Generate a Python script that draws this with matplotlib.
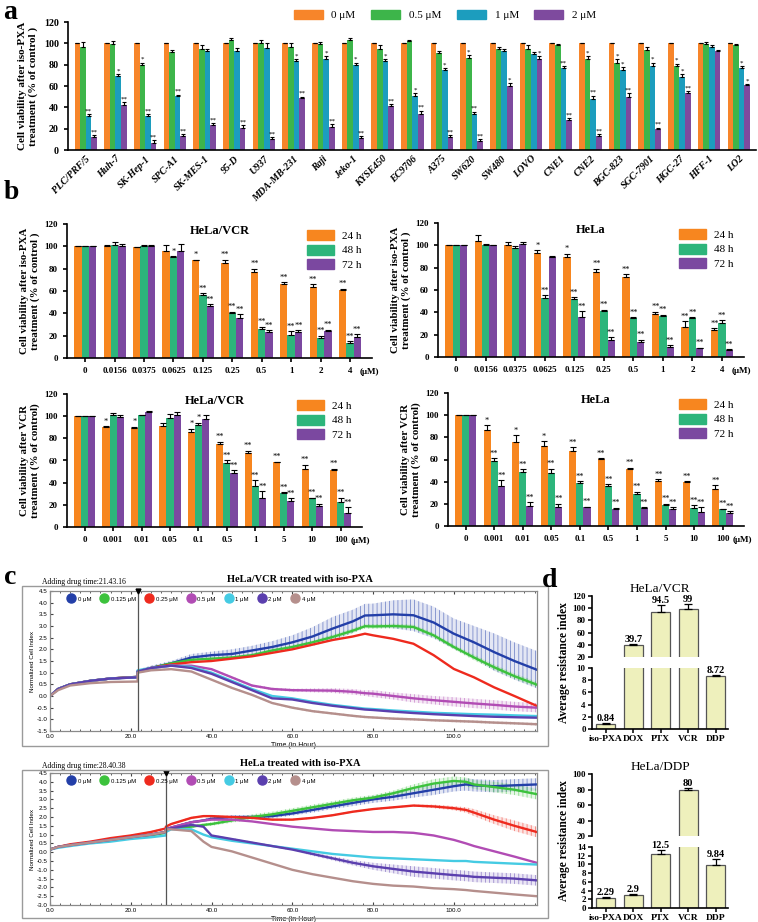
import numpy as np
import matplotlib
matplotlib.use('Agg')
import matplotlib.pyplot as plt
from matplotlib.patches import Rectangle, Patch
from matplotlib.lines import Line2D
import matplotlib.transforms as mtransforms

plt.rcParams['font.family'] = 'Liberation Serif'
plt.rcParams['font.weight'] = 'bold'
plt.rcParams['axes.labelweight'] = 'bold'
plt.rcParams['hatch.linewidth'] = 0.6

W, H = 758, 922
fig = plt.figure(figsize=(W / 100, H / 100), dpi=100)


def add_ax(x0, y0, x1, y1):
    return fig.add_axes([x0 / W, 1 - y1 / H, (x1 - x0) / W, (y1 - y0) / H])


# ---------------- panel a data ----------------
cell_lines = ['PLC/PRF/5', 'Huh-7', 'SK-Hep-1', 'SPC-A1', 'SK-MES-1', '95-D', 'U937',
              'MDA-MB-231', 'Raji', 'Jeko-1', 'KYSE450', 'EC9706', 'A375', 'SW620',
              'SW480', 'LOVO', 'CNE1', 'CNE2', 'BGC-823', 'SGC-7901', 'HGC-27', 'HFF-1', 'LO2']
a_labels = ['0 μM', '0.5 μM', '1 μM', '2 μM']
a_0 = [100, 100, 100, 100, 100, 100, 100, 100, 100, 100, 100, 100, 100, 100, 100, 100, 100, 100, 100, 100, 100, 100, 100]
a_05 = [97, 99, 80, 92, 95, 103, 100, 97, 99, 103, 95, 102, 91, 86, 95, 95, 98, 85, 82, 94, 79, 99, 98]
a_1 = [32, 69, 32, 51, 93, 93, 96, 83, 85, 80, 83, 51, 75, 34, 93, 90, 77, 48, 75, 79, 68, 97, 77]
a_2 = [12, 42, 7, 13, 23, 21, 10, 49, 22, 11, 41, 34, 12, 8, 60, 85, 28, 13, 50, 20, 53, 93, 61]
a_err0 = [0, 0, 0, 0, 0, 0, 0, 0, 0, 0, 0, 0, 0, 0, 0, 0, 0, 0, 0, 0, 0, 0, 0]
a_err05 = [4, 3, 2, 2, 3, 2, 3, 3, 2, 2, 3, 1, 2, 3, 2, 3, 1, 3, 3, 3, 2, 2, 1]
a_err1 = [2, 2, 2, 1, 2, 3, 4, 2, 3, 2, 2, 2, 2, 2, 2, 2, 2, 3, 3, 3, 3, 1, 2]
a_err2 = [2, 3, 2, 2, 2, 2, 2, 1, 2, 2, 2, 3, 2, 2, 3, 3, 2, 2, 3, 1, 2, 1, 1]
a_sig05 = ['', '', '*', '', '', '', '', '', '', '', '', '', '', '*', '', '', '', '*', '*', '', '*', '', '']
a_sig1 = ['**', '*', '**', '**', '', '', '', '*', '*', '*', '*', '*', '*', '**', '', '', '**', '**', '*', '*', '*', '', '*']
a_sig2 = ['**', '**', '**', '**', '**', '**', '**', '**', '**', '**', '**', '**', '**', '**', '*', '*', '**', '**', '**', '**', '**', '', '*']
a_colors = ['#F7852A', '#3DB54A', '#1C9DBE', '#7E4A9E']

# ---------------- panel b data ----------------
pxa_conc = ['0', '0.0156', '0.0375', '0.0625', '0.125', '0.25', '0.5', '1', '2', '4']
vcr_conc = ['0', '0.001', '0.01', '0.05', '0.1', '0.5', '1', '5', '10', '100']
b_labels = ['24 h', '48 h', '72 h']
b_colors = ['#F7861F', '#2DB57B', '#7B48A0']

# HeLa/VCR + iso-PXA
b1_24 = [100, 100, 99, 96, 88, 85, 77, 66, 64, 61]
b1_48 = [100, 101.5, 100.5, 90, 56, 40.5, 26, 21, 18, 13]
b1_72 = [100, 100, 100.5, 96, 47, 36, 23, 23.5, 24, 19]
b1_e24 = [0, 1, 0.5, 5, 0, 3, 3, 2, 2, 1]
b1_e48 = [0, 2.5, 1, 1, 2, 1, 2, 3, 2, 2]
b1_e72 = [0, 2, 1, 6, 1, 3, 2, 1.5, 1.5, 2.5]
b1_s24 = ['', '', '', '', '*', '**', '**', '**', '**', '**']
b1_s48 = ['', '', '', '*', '**', '**', '**', '**', '**', '**']
b1_s72 = ['', '', '', '', '**', '**', '**', '**', '**', '**']

# HeLa + iso-PXA
b2_24 = [100, 103.5, 100.5, 93.5, 89.5, 76, 71.5, 38.5, 27, 24]
b2_48 = [100, 100.5, 98, 53, 51.5, 41.5, 35, 37, 35, 30]
b2_72 = [100, 100, 101, 89.5, 36, 15.5, 13.5, 9, 8, 6.5]
b2_e24 = [0, 6, 2.5, 2, 3, 3, 2.5, 2, 5, 2]
b2_e48 = [0, 1, 1, 2.5, 2, 1, 0.5, 1, 0.5, 3]
b2_e72 = [0, 0.5, 2, 0.5, 5, 2, 2, 1.5, 0.5, 0.5]
b2_s24 = ['', '', '', '*', '*', '**', '**', '**', '**', '**']
b2_s48 = ['', '', '', '**', '**', '**', '**', '**', '**', '**']
b2_s72 = ['', '', '', '', '**', '**', '**', '**', '**', '**']

# HeLa/VCR + VCR
b3_24 = [100, 90, 89, 91.5, 86, 75, 66.5, 58.5, 52.5, 51]
b3_48 = [100, 101, 101, 98, 92, 58, 37, 31, 26, 22.5]
b3_72 = [100, 99.5, 104, 101, 97.5, 48.5, 26.5, 23.5, 18.5, 13]
b3_e24 = [0, 1, 1.5, 2.5, 2.5, 2, 2.5, 0.5, 3.5, 1.5]
b3_e48 = [0, 2, 0.5, 4, 2, 2.5, 5, 0.5, 0.5, 4]
b3_e72 = [0, 1.5, 1, 2.5, 3.5, 2.5, 6, 2.5, 2.5, 5]
b3_s24 = ['', '*', '*', '', '*', '**', '**', '**', '**', '**']
b3_s48 = ['', '', '', '', '*', '**', '**', '**', '**', '**']
b3_s72 = ['', '', '', '', '', '**', '**', '**', '**', '**']

# HeLa + VCR
b4_24 = [100, 87, 75.5, 72.5, 67.5, 60.5, 51.5, 41, 40, 33]
b4_48 = [100, 58.5, 49, 48, 39, 36, 29, 19, 16.5, 15]
b4_72 = [100, 36, 18, 17.5, 17, 15.5, 16, 15.5, 13, 11.5]
b4_e24 = [0, 4, 6.5, 4, 3.5, 0.5, 1, 1, 0.5, 4]
b4_e48 = [0, 2.5, 2, 3.5, 1.5, 1.5, 2, 1, 2, 0.5]
b4_e72 = [0, 5.5, 3.5, 2.5, 0.5, 1, 1, 1.5, 4, 2]
b4_s24 = ['', '*', '*', '*', '**', '**', '**', '**', '**', '**']
b4_s48 = ['', '**', '**', '**', '**', '**', '**', '**', '**', '**']
b4_s72 = ['', '**', '**', '**', '**', '**', '**', '**', '**', '**']

# ---------------- panel c data (xCELLigence curves) ----------------
c_labels = ['0 μM', '0.125 μM', '0.25 μM', '0.5 μM', '1 μM', '2 μM', '4 μM']
c_colors = ['#233FA8', '#3CC23C', '#EE2A1E', '#B14CB4', '#45CBE3', '#5B3FAE', '#B58F8C']

c1_drug = 21.7
c1_t = [0, 2, 5, 10, 15, 21.7, 21.7, 25, 30, 35, 40, 45, 50, 55, 60, 65, 70, 75, 78, 80, 85, 90, 95, 100, 105, 110, 115, 120.5]
c1_0 = [0, 0.3, 0.5, 0.65, 0.75, 0.82, 1.05, 1.2, 1.4, 1.65, 1.75, 1.8, 1.95, 2.1, 2.3, 2.55, 2.89, 3.2, 3.45, 3.46, 3.5, 3.46, 3.15, 2.67, 2.3, 1.88, 1.5, 1.13]
c1_0125 = [0, 0.3, 0.5, 0.65, 0.75, 0.82, 1.05, 1.2, 1.4, 1.55, 1.6, 1.65, 1.75, 1.95, 2.1, 2.3, 2.53, 2.8, 2.99, 2.98, 3.0, 2.96, 2.6, 2.1, 1.65, 1.23, 0.85, 0.49]
c1_025 = [0, 0.3, 0.5, 0.65, 0.75, 0.82, 1.05, 1.2, 1.35, 1.45, 1.5, 1.6, 1.7, 1.85, 2.0, 2.2, 2.4, 2.55, 2.67, 2.6, 2.45, 2.24, 1.75, 1.16, 0.8, 0.37, 0.0, -0.42]
c1_05 = [0, 0.3, 0.5, 0.65, 0.75, 0.8, 1.05, 1.2, 1.3, 1.3, 1.15, 0.8, 0.45, 0.3, 0.25, 0.24, 0.23, 0.18, 0.12, 0.1, 0.0, -0.1, -0.18, -0.25, -0.32, -0.38, -0.45, -0.5]
c1_1 = [0, 0.3, 0.5, 0.65, 0.75, 0.8, 1.1, 1.2, 1.3, 1.25, 1.0, 0.65, 0.3, 0.0, -0.1, -0.25, -0.38, -0.48, -0.54, -0.56, -0.62, -0.67, -0.72, -0.75, -0.78, -0.8, -0.83, -0.86]
c1_2 = [0, 0.3, 0.5, 0.65, 0.75, 0.8, 1.05, 1.2, 1.3, 1.2, 0.95, 0.6, 0.25, -0.1, -0.15, -0.3, -0.42, -0.52, -0.58, -0.6, -0.67, -0.73, -0.78, -0.82, -0.86, -0.89, -0.91, -0.93]
c1_4 = [0, 0.25, 0.45, 0.55, 0.6, 0.62, 1.0, 1.1, 1.15, 1.05, 0.7, 0.35, 0.05, -0.3, -0.5, -0.65, -0.75, -0.85, -0.9, -0.92, -0.97, -1.0, -1.04, -1.07, -1.1, -1.14, -1.17, -1.21]
c1_err0 = [0, 0.02, 0.03, 0.04, 0.05, 0.05, 0.08, 0.1, 0.1, 0.15, 0.15, 0.2, 0.2, 0.25, 0.3, 0.4, 0.5, 0.5, 0.5, 0.5, 0.6, 0.68, 0.68, 0.65, 0.7, 0.8, 0.8, 0.8]
c1_err0125 = [0, 0.02, 0.02, 0.02, 0.02, 0.02, 0.03, 0.03, 0.04, 0.05, 0.05, 0.06, 0.06, 0.08, 0.08, 0.08, 0.1, 0.1, 0.1, 0.1, 0.1, 0.1, 0.1, 0.1, 0.12, 0.12, 0.12, 0.12]
c1_err05 = [0, 0.02, 0.02, 0.02, 0.02, 0.02, 0.03, 0.03, 0.03, 0.03, 0.04, 0.05, 0.05, 0.06, 0.06, 0.08, 0.1, 0.12, 0.12, 0.15, 0.15, 0.18, 0.18, 0.2, 0.2, 0.2, 0.2, 0.2]
c1_err4 = [0, 0.02, 0.02, 0.02, 0.02, 0.02, 0.03, 0.03, 0.03, 0.03, 0.03, 0.04, 0.04, 0.04, 0.05, 0.05, 0.05, 0.05, 0.05, 0.05, 0.05, 0.05, 0.05, 0.06, 0.06, 0.06, 0.06, 0.06]

c2_drug = 28.7
c2_t = [0, 2, 5, 10, 15, 20, 25, 28.7, 28.7, 30, 35, 38, 40, 45, 50, 55, 60, 65, 70, 75, 80, 85, 90, 95, 100, 103, 105, 110, 115, 120.5]
c2_0 = [0.15, 0.3, 0.4, 0.55, 0.7, 0.85, 1.0, 1.15, 1.3, 1.4, 1.7, 1.8, 1.9, 2.0, 2.0, 2.05, 2.2, 2.4, 2.6, 2.8, 3.0, 3.15, 3.35, 3.55, 3.75, 3.85, 3.8, 3.75, 3.8, 3.85]
c2_0125 = [0.15, 0.3, 0.4, 0.55, 0.7, 0.82, 0.95, 1.1, 1.3, 1.35, 1.45, 1.55, 1.6, 1.8, 2.0, 2.15, 2.35, 2.55, 2.75, 2.95, 3.1, 3.35, 3.65, 3.9, 4.05, 4.0, 3.85, 3.7, 3.55, 3.3]
c2_025 = [0.15, 0.3, 0.45, 0.6, 0.8, 0.95, 1.15, 1.35, 1.45, 1.6, 1.95, 2.05, 2.05, 2.0, 1.95, 1.85, 1.85, 1.95, 2.1, 2.3, 2.45, 2.55, 2.65, 2.6, 2.5, 2.4, 2.25, 1.85, 1.5, 1.15]
c2_05 = [0.15, 0.3, 0.4, 0.55, 0.7, 0.85, 1.0, 1.15, 1.3, 1.4, 1.7, 1.8, 1.85, 1.85, 1.75, 1.6, 1.45, 1.35, 1.25, 1.2, 1.15, 1.15, 1.1, 0.95, 0.7, 0.5, 0.35, 0.05, -0.25, -0.6]
c2_1 = [0.15, 0.25, 0.35, 0.5, 0.6, 0.75, 0.85, 0.95, 1.15, 1.3, 1.3, 1.0, 0.85, 0.65, 0.5, 0.35, 0.2, 0.05, -0.1, -0.2, -0.3, -0.35, -0.4, -0.45, -0.5, -0.5, -0.55, -0.6, -0.65, -0.7]
c2_2 = [0.15, 0.3, 0.4, 0.55, 0.7, 0.85, 1.0, 1.15, 1.3, 1.35, 1.55, 1.45, 0.95, 0.75, 0.55, 0.35, 0.15, -0.1, -0.35, -0.6, -0.8, -0.95, -1.1, -1.2, -1.3, -1.35, -1.4, -1.45, -1.5, -1.6]
c2_4 = [0.15, 0.3, 0.4, 0.55, 0.7, 0.85, 1.0, 1.15, 1.3, 1.3, 1.2, 0.6, 0.3, 0.05, -0.3, -0.65, -1.0, -1.25, -1.45, -1.65, -1.8, -1.9, -1.95, -2.05, -2.1, -2.15, -2.2, -2.3, -2.4, -2.5]
c2_err0 = [0, 0.02, 0.02, 0.03, 0.03, 0.04, 0.05, 0.05, 0.05, 0.06, 0.08, 0.08, 0.1, 0.1, 0.1, 0.12, 0.12, 0.15, 0.15, 0.18, 0.2, 0.22, 0.25, 0.3, 0.3, 0.35, 0.35, 0.35, 0.35, 0.35]
c2_err0125 = [0, 0.02, 0.02, 0.03, 0.03, 0.04, 0.05, 0.05, 0.05, 0.06, 0.08, 0.08, 0.1, 0.12, 0.15, 0.15, 0.15, 0.15, 0.15, 0.15, 0.15, 0.15, 0.2, 0.25, 0.25, 0.25, 0.25, 0.3, 0.3, 0.3]
c2_err025 = [0, 0.02, 0.02, 0.03, 0.03, 0.04, 0.05, 0.05, 0.05, 0.05, 0.05, 0.05, 0.05, 0.05, 0.05, 0.05, 0.05, 0.05, 0.05, 0.05, 0.05, 0.05, 0.05, 0.1, 0.12, 0.15, 0.2, 0.25, 0.3, 0.3]
c2_err2 = [0, 0.02, 0.02, 0.03, 0.03, 0.04, 0.05, 0.05, 0.05, 0.05, 0.05, 0.05, 0.05, 0.05, 0.05, 0.05, 0.05, 0.1, 0.12, 0.15, 0.2, 0.25, 0.3, 0.3, 0.3, 0.3, 0.3, 0.3, 0.3, 0.3]

# ---------------- panel d data ----------------
drugs = ['iso-PXA', 'DOX', 'PTX', 'VCR', 'DDP']
d1_vals = [0.84, 39.7, 94.5, 99, 8.72]
d1_err = [0.2, 0.8, 10, 8, 0.15]
d1_text = ['0.84', '39.7', '94.5', '99', '8.72']
d2_vals = [2.29, 2.9, 12.5, 80, 9.84]
d2_err = [0.3, 0.2, 0.7, 1.5, 1.3]
d2_text = ['2.29', '2.9', '12.5', '80', '9.84']


def style_ax(ax, lw=1.3):
    for s in ['top', 'right']:
        ax.spines[s].set_visible(False)
    for s in ['left', 'bottom']:
        ax.spines[s].set_linewidth(lw)
    ax.tick_params(width=lw, length=3, direction='out')


def grouped_bars(ax, groups, errs, sigs, colors, width, star_fs):
    n = len(groups)
    x = np.arange(len(groups[0]))
    for i, (vals, err, sig, col) in enumerate(zip(groups, errs, sigs, colors)):
        pos = x + (i - (n - 1) / 2) * width
        ax.bar(pos, vals, width, color=col, edgecolor='none', zorder=2)
        ax.errorbar(pos, vals, yerr=[np.zeros(len(err)), err], fmt='none', ecolor='black',
                    elinewidth=0.8, capsize=width * 8, capthick=0.8, zorder=3)
        if sig is not None:
            for p, v, e, s in zip(pos, vals, err, sig):
                if s:
                    ax.text(p, v + e + 0.5, s, ha='center', va='bottom', fontsize=star_fs,
                            fontweight='normal', zorder=4)
    return x


# ================= panel a =================
ax = add_ax(68, 22, 756, 150)
style_ax(ax, 1.2)
x = grouped_bars(ax, [a_0, a_05, a_1, a_2], [a_err0, a_err05, a_err1, a_err2],
                 [None, a_sig05, a_sig1, a_sig2], a_colors, 0.19, 5)
ax.set_xlim(-0.6, 22.58)
ax.set_ylim(0, 120)
ax.set_yticks(range(0, 121, 20))
ax.set_xticks(x)
ax.set_xticklabels(cell_lines, rotation=45, ha='right', rotation_mode='anchor',
                   fontsize=7.2, fontstyle='italic')
ax.tick_params(axis='y', labelsize=7.2)
ax.tick_params(axis='x', length=0, pad=3)
ax.set_ylabel('Cell viability after iso-PXA\ntreatment (% of control )', fontsize=8, labelpad=4)
handles = [Patch(color=c) for c in a_colors]
fig.legend(handles, a_labels, loc='center', bbox_to_anchor=(445 / W, 1 - 15 / H), ncol=4,
           frameon=False, handlelength=2.6, handleheight=0.9, columnspacing=1.4,
           prop={'weight': 'normal', 'size': 8})


# ================= panel b =================
def panel_b(rect, title, conc, vals, errs, sigs, ylabel):
    ax = add_ax(*rect)
    style_ax(ax, 1.2)
    x = grouped_bars(ax, vals, errs, sigs, b_colors, 0.25, 6)
    ax.set_xlim(-0.62, 9.75)
    ax.set_ylim(0, 120)
    ax.set_yticks(range(0, 121, 20))
    ax.set_xticks(x)
    ax.set_xticklabels(conc, fontsize=6.5)
    ax.tick_params(axis='y', labelsize=6.5)
    ax.text(0.5, 0.99, title, transform=ax.transAxes, ha='center', va='top', fontsize=9)
    trans = mtransforms.blended_transform_factory(ax.transData, ax.transAxes)
    ax.text(9.34, -0.075, '(μM)', transform=trans, ha='left', va='top', fontsize=6.5)
    ax.set_ylabel(ylabel, fontsize=7.8, labelpad=3)
    hs = [Patch(color=c) for c in b_colors]
    ax.legend(hs, b_labels, loc='upper right', bbox_to_anchor=(1.0, 1.03), frameon=False,
              handlelength=2.4, handleheight=1.0, labelspacing=0.35,
              prop={'weight': 'normal', 'size': 8})
    return ax


lab_pxa = 'Cell viability after iso-PXA\ntreatment (% of control )'
lab_vcr = 'Cell viability after VCR\ntreatment (% of control)'
panel_b((67, 224, 372, 358), 'HeLa/VCR', pxa_conc, [b1_24, b1_48, b1_72],
        [b1_e24, b1_e48, b1_e72], [b1_s24, b1_s48, b1_s72], lab_pxa)
panel_b((438, 223, 744, 357), 'HeLa', pxa_conc, [b2_24, b2_48, b2_72],
        [b2_e24, b2_e48, b2_e72], [b2_s24, b2_s48, b2_s72], lab_pxa)
panel_b((67, 394, 362, 527), 'HeLa/VCR', vcr_conc, [b3_24, b3_48, b3_72],
        [b3_e24, b3_e48, b3_e72], [b3_s24, b3_s48, b3_s72], lab_vcr)
panel_b((448, 393, 744, 526), 'HeLa', vcr_conc, [b4_24, b4_48, b4_72],
        [b4_e24, b4_e48, b4_e72], [b4_s24, b4_s48, b4_s72], lab_vcr)


# ================= panel c =================
def panel_c(frame, rect, title, drug_label, t, series, errs, drug_t, ylim, yticks):
    fx0, fy0, fx1, fy1 = frame
    fig.patches.append(Rectangle((fx0 / W, 1 - fy1 / H), (fx1 - fx0) / W, (fy1 - fy0) / H,
                                 transform=fig.transFigure, fill=False, edgecolor='#9a9a9a',
                                 linewidth=1.0))
    fig.text((fx0 + fx1) / 2 / W + 0.02, 1 - (fy0 - 7) / H, title, ha='center', va='center',
             fontsize=7.5, fontweight='bold')
    fig.text((fx0 + 20) / W, 1 - (fy0 - 4) / H, drug_label, ha='left', va='center',
             fontsize=5.5, fontweight='normal')
    ax = add_ax(*rect)
    for s in ax.spines.values():
        s.set_color('#8a8a8a')
        s.set_linewidth(0.9)
    for vals, col, err in zip(series, c_colors, errs):
        v = np.array(vals)
        if err is not None:
            e = np.array(err)
            ax.fill_between(t, v - e, v + e, facecolor=col, alpha=0.12, linewidth=0, zorder=1)
            ax.fill_between(t, v - e, v + e, facecolor='none', edgecolor=col, hatch='||||',
                            alpha=0.55, linewidth=0, zorder=1)
    for vals, col in zip(series, c_colors):
        ax.plot(t, vals, color=col, lw=1.7, zorder=2)
    ax.axvline(drug_t, color='#555555', lw=0.9, zorder=3)
    ax.plot([drug_t], [ylim[1]], marker='v', color='black', markersize=3.5, clip_on=False, zorder=4)
    ax.set_xlim(0, 120.6)
    ax.set_ylim(*ylim)
    ax.set_yticks(yticks)
    ax.set_yticklabels([f'{v:.1f}' for v in yticks], fontfamily='Liberation Sans', fontweight='normal')
    ax.set_xticks([0, 20, 40, 60, 80, 100])
    ax.set_xticklabels(['0.0', '20.0', '40.0', '60.0', '80.0', '100.0'],
                       fontfamily='Liberation Sans', fontweight='normal')
    ax.set_xticks(np.arange(0, 121, 2.5), minor=True)
    ax.tick_params(axis='both', which='major', labelsize=4.5, length=2.5, direction='in',
                   top=True, color='#444444', pad=2)
    ax.tick_params(axis='x', which='minor', length=1.5, direction='in', top=True, color='#444444')
    ax.set_xlabel('Time (in Hour)', fontsize=5, fontfamily='Liberation Sans', fontweight='normal',
                  labelpad=2)
    ax.set_ylabel('Normalized Cell Index', fontsize=4.5, fontfamily='Liberation Sans',
                  fontweight='normal', labelpad=1)
    hs = [Line2D([], [], marker='o', linestyle='none', markersize=6.5, color=c) for c in c_colors]
    ax.legend(hs, c_labels, loc='upper left', bbox_to_anchor=(0.02, 1.0), ncol=7, frameon=False,
              handletextpad=0.1, columnspacing=1.2,
              prop={'family': 'Liberation Sans', 'size': 4.3, 'weight': 'normal'})
    return ax


panel_c((22, 586, 548, 746), (50, 591, 537, 731), 'HeLa/VCR treated with iso-PXA',
        'Adding drug time:21.43.16', c1_t,
        [c1_0, c1_0125, c1_025, c1_05, c1_1, c1_2, c1_4],
        [c1_err0, c1_err0125, None, c1_err05, None, None, c1_err4], c1_drug,
        (-1.5, 4.5), np.arange(-1.5, 4.51, 0.5))
panel_c((22, 770, 548, 918), (50, 773, 537, 905), 'HeLa treated with iso-PXA',
        'Adding drug time:28.40.38', c2_t,
        [c2_0, c2_0125, c2_025, c2_05, c2_1, c2_2, c2_4],
        [c2_err0, c2_err0125, c2_err025, None, None, c2_err2, None], c2_drug,
        (-3.0, 4.5), np.arange(-3.0, 4.51, 0.5))


# ================= panel d =================
def panel_d(up_rect, lo_rect, title, vals, err, texts, up_lim, up_ticks, lo_lim, lo_ticks):
    axu = add_ax(*up_rect)
    axl = add_ax(*lo_rect)
    x = np.arange(len(vals))
    for a in (axu, axl):
        a.bar(x, vals, 0.68, color='#EEF0BC', edgecolor='#555555', linewidth=0.9, zorder=2)
        a.errorbar(x, vals, yerr=[np.zeros(len(err)), err], fmt='none', ecolor='black',
                   elinewidth=0.9, capsize=3, capthick=0.9, zorder=3)
        a.set_xlim(-0.5, 4.45)
        for s in ['top', 'right']:
            a.spines[s].set_visible(False)
        a.spines['left'].set_linewidth(1.2)
        a.spines['bottom'].set_linewidth(1.2)
        a.tick_params(width=1.1, length=3, labelsize=6.5, pad=1.5)
    axu.set_ylim(*up_lim)
    axu.set_yticks(up_ticks)
    axu.spines['bottom'].set_visible(False)
    axu.set_xticks([])
    axl.set_ylim(*lo_lim)
    axl.set_yticks(lo_ticks)
    axl.set_xticks(x)
    axl.set_xticklabels(drugs, fontsize=6.8)
    axl.tick_params(axis='x', pad=1)
    for xi, v, e, t in zip(x, vals, err, texts):
        target = axu if v > up_lim[0] else axl
        target.text(xi, v + e, t, ha='center', va='bottom', fontsize=7.5)
    axu.set_title(title, fontsize=9.5, pad=3)
    fig.text((up_rect[0] - 28) / W, 1 - (up_rect[1] + lo_rect[3]) / 2 / H,
             'Average resistance index', rotation=90, ha='center', va='center', fontsize=8.3)


panel_d((592, 596, 728, 657), (592, 668, 728, 729), 'HeLa/VCR', d1_vals, d1_err, d1_text,
        (20, 120), range(20, 121, 20), (0, 10), range(0, 11, 2))
panel_d((592, 774, 728, 836), (592, 847, 728, 908), 'HeLa/DDP', d2_vals, d2_err, d2_text,
        (20, 100), range(20, 101, 20), (0, 14), range(0, 15, 2))

# panel letters
for letter, px, py in [('a', 3, 0), ('b', 4, 180), ('c', 4, 565), ('d', 542, 568)]:
    fig.text(px / W, 1 - py / H, letter, fontsize=20, fontweight='bold', ha='left', va='top')

fig.savefig('out.png', dpi=100)
